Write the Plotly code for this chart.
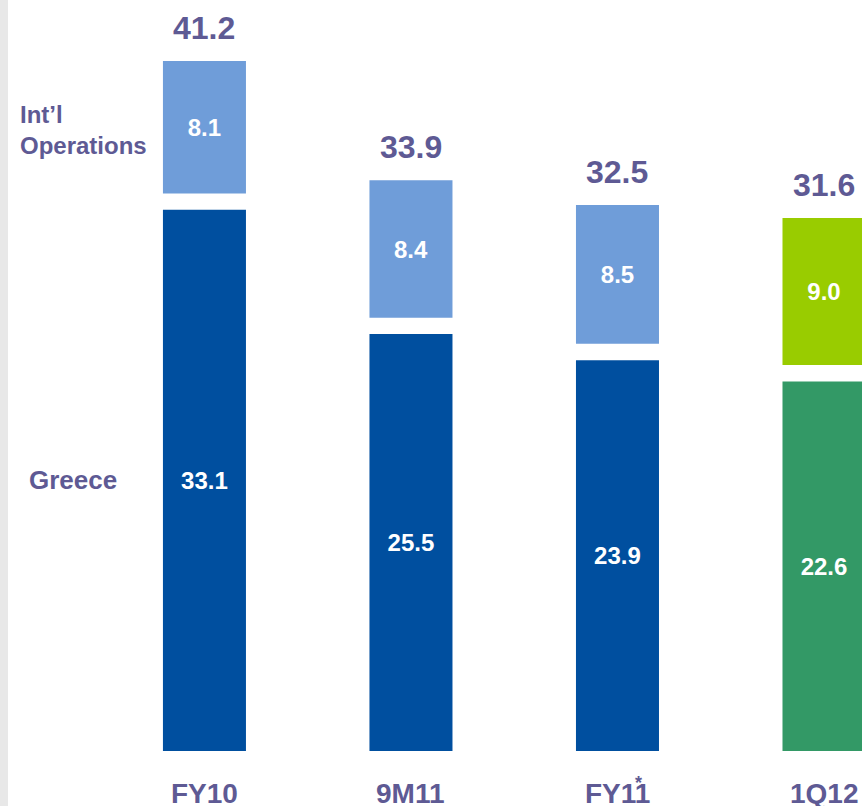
import plotly.graph_objects as go

categories = ["FY10", "9M11", "FY11", "1Q12"]
greece = [33.1, 25.5, 23.9, 22.6]
intl = [8.1, 8.4, 8.5, 9.0]
totals = [41.2, 33.9, 32.5, 31.6]

# styling
GAP = 1.0  # white gap between the two segments, in value units
PURPLE = "#5e5a94"
FONT = "Liberation Sans, Arial, sans-serif"
greece_colors = ["#004f9f", "#004f9f", "#004f9f", "#339966"]
intl_colors = ["#6f9dd9", "#6f9dd9", "#6f9dd9", "#99cc00"]


def main() -> None:
    fig = go.Figure()

    fig.add_trace(go.Bar(
        x=categories,
        y=greece,
        width=0.402,
        marker=dict(color=greece_colors, line=dict(width=0)),
        text=[f"{v:.1f}" for v in greece],
        textposition="inside",
        insidetextanchor="middle",
        textfont=dict(family=FONT, size=24, color="white", weight="bold"),
        hoverinfo="skip",
    ))
    fig.add_trace(go.Bar(
        x=categories,
        y=intl,
        base=[g + GAP for g in greece],
        width=0.402,
        marker=dict(color=intl_colors, line=dict(width=0)),
        text=[f"{v:.1f}" for v in intl],
        textposition="inside",
        insidetextanchor="middle",
        textfont=dict(family=FONT, size=24, color="white", weight="bold"),
        hoverinfo="skip",
    ))

    annotations = []
    # totals above each bar
    for c, g, i, t in zip(categories, greece, intl, totals):
        annotations.append(dict(
            x=c, y=g + GAP + i, xref="x", yref="y",
            text=f"{t:.1f}", showarrow=False,
            yanchor="middle", yshift=33,
            font=dict(family=FONT, size=32, color=PURPLE, weight="bold"),
        ))
    # category labels under the bars
    for c in categories:
        annotations.append(dict(
            x=c, y=0, xref="x", yref="paper",
            text=c, showarrow=False,
            yanchor="middle", yshift=-42,
            font=dict(family=FONT, size=28, color=PURPLE, weight="bold"),
        ))
    annotations.append(dict(
        x="FY11", y=0, xref="x", yref="paper",
        text="*", showarrow=False, xshift=21,
        yanchor="middle", yshift=-32,
        font=dict(family=FONT, size=18, color=PURPLE, weight="bold"),
    ))
    # series names on the left, next to the first bar
    annotations.append(dict(
        x=18 / 862, y=greece[0] + GAP + intl[0] / 2 - 0.2, xref="paper", yref="y",
        text="Int’l<br>Operations", showarrow=False,
        xanchor="left", yanchor="middle", align="left",
        font=dict(family=FONT, size=24, color=PURPLE, weight="bold"),
    ))
    annotations.append(dict(
        x=27 / 862, y=greece[0] / 2, xref="paper", yref="y",
        text="Greece", showarrow=False,
        xanchor="left", yanchor="middle",
        font=dict(family=FONT, size=26, color=PURPLE, weight="bold"),
    ))

    fig.update_layout(
        width=862, height=806,
        margin=dict(l=0, r=0, t=0, b=55),
        barmode="overlay",
        showlegend=False,
        plot_bgcolor="white",
        paper_bgcolor="white",
        xaxis=dict(range=[-0.99, 3.184], visible=False),
        yaxis=dict(range=[0, 45.93], visible=False),
        annotations=annotations,
        shapes=[dict(
            type="rect", xref="paper", yref="paper",
            x0=0, x1=8 / 862, y0=-0.1, y1=1.0,
            fillcolor="#e8e8e8", line=dict(width=0), layer="below",
        )],
    )

    # drop the default page margin so the chart sits at the window corner
    fig.write_html(
        "out.html",
        config={"displayModeBar": False},
        post_script="document.body.style.margin='0';",
    )


if __name__ == "__main__":
    main()
